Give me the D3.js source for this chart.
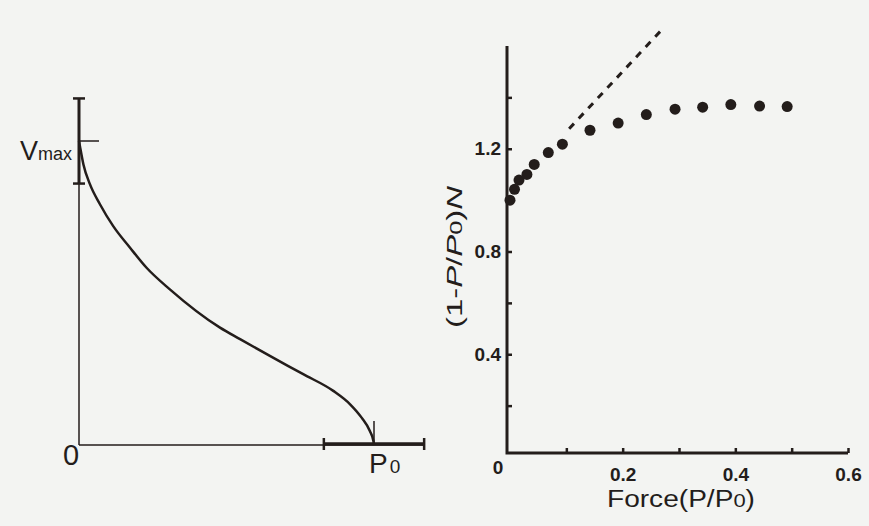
<!DOCTYPE html>
<html>
<head>
<meta charset="utf-8">
<script src="https://cdnjs.cloudflare.com/ajax/libs/d3/7.8.5/d3.min.js"></script>
<style>
  body { margin: 0; background: #f3f4f2; }
  svg { display: block; }
</style>
</head>
<body>
<div id="chart"></div>
<script>
const w = 869;
const h = 526;
const ink = '#231d1b';

// left panel: schematic force-velocity curve (P/P0, V/Vmax)
const curveP = [0, 0.003, 0.015, 0.037, 0.071, 0.116, 0.173, 0.229, 0.308, 0.478, 0.546, 0.647, 0.760, 0.862, 0.919, 0.958, 0.986, 0.998, 1.0];
const curveV = [1.0, 0.984, 0.923, 0.858, 0.792, 0.720, 0.649, 0.583, 0.512, 0.386, 0.348, 0.293, 0.233, 0.178, 0.134, 0.090, 0.046, 0.013, 0];
const vmaxRange = [0.86, 1.14];
const p0Range = [0.83, 1.17];

// right panel: (1-P/P0)N vs force
const forceVals = [0, 0.008, 0.016, 0.03, 0.043, 0.068, 0.093, 0.142, 0.192, 0.242, 0.293, 0.342, 0.392, 0.443, 0.492];
const nVals = [1.0, 1.042, 1.078, 1.10, 1.139, 1.185, 1.218, 1.272, 1.30, 1.333, 1.354, 1.362, 1.372, 1.366, 1.364];
const dashX = [0.105, 0.268];
const dashY = [1.278, 1.66];
const xTicks = [0.1, 0.2, 0.3, 0.4, 0.5, 0.6];
const xTickLabels = [0.2, 0.4, 0.6];
const yTicks = [0.2, 0.4, 0.6, 0.8, 1.0, 1.2, 1.4];
const yTickLabels = [0.4, 0.8, 1.2];

const svg = d3.select('#chart')
  .append('svg')
  .attr('width', w)
  .attr('height', h);

svg.append('rect').attr('width', w).attr('height', h).attr('fill', '#f3f4f2');

// ---------- left panel ----------
const lx = d3.scaleLinear().domain([0, 1]).range([79, 374]);
const ly = d3.scaleLinear().domain([0, 1]).range([445, 141]);
const left = svg.append('g').attr('stroke', ink).attr('fill', 'none');

// thin axes
left.append('line')
  .attr('x1', lx(0)).attr('x2', lx(0))
  .attr('y1', ly(0)).attr('y2', ly(vmaxRange[1]))
  .attr('stroke-width', 1.5);
left.append('line')
  .attr('x1', lx(0)).attr('x2', lx(p0Range[1]))
  .attr('y1', ly(0)).attr('y2', ly(0))
  .attr('stroke-width', 1.5);

// thick ranges with end caps
left.append('line')
  .attr('x1', lx(0)).attr('x2', lx(0))
  .attr('y1', ly(vmaxRange[0])).attr('y2', ly(vmaxRange[1]))
  .attr('stroke-width', 3);
vmaxRange.forEach(v => {
  left.append('line')
    .attr('x1', lx(0) - 6).attr('x2', lx(0) + 6)
    .attr('y1', ly(v)).attr('y2', ly(v))
    .attr('stroke-width', 2.5);
});
left.append('line')
  .attr('x1', lx(p0Range[0])).attr('x2', lx(p0Range[1]))
  .attr('y1', ly(0) - 1).attr('y2', ly(0) - 1)
  .attr('stroke-width', 3.5);
p0Range.forEach(v => {
  left.append('line')
    .attr('x1', lx(v)).attr('x2', lx(v))
    .attr('y1', ly(0) - 7).attr('y2', ly(0) + 5)
    .attr('stroke-width', 2.5);
});

// Vmax and P0 marks
left.append('line')
  .attr('x1', lx(0)).attr('x2', lx(0) + 20)
  .attr('y1', ly(1)).attr('y2', ly(1))
  .attr('stroke-width', 1.5);
left.append('line')
  .attr('x1', lx(1)).attr('x2', lx(1))
  .attr('y1', ly(0)).attr('y2', ly(0) - 24)
  .attr('stroke-width', 1.5);

const curveData = curveP.map((p, i) => [p, curveV[i]]);
left.append('path')
  .datum(curveData)
  .attr('d', d3.line().x(d => lx(d[0])).y(d => ly(d[1])).curve(d3.curveMonotoneX))
  .attr('stroke-width', 2.5);

const ltext = svg.append('g').attr('fill', ink).attr('font-family', 'Liberation Sans, Arial, sans-serif');
const vm = ltext.append('text').attr('x', 20).attr('y', 160);
vm.append('tspan').attr('font-size', 27).text('V');
vm.append('tspan').attr('font-size', 18).text('max');

ltext.append('text')
  .attr('x', 71).attr('y', 465)
  .attr('text-anchor', 'middle')
  .attr('font-size', 29)
  .text('0');

const p0 = ltext.append('text').attr('x', 369).attr('y', 473);
p0.append('tspan').attr('font-size', 28).text('P');
p0.append('tspan').attr('font-size', 19).attr('dx', 2).text('0');

// ---------- right panel ----------
const x = d3.scaleLinear().domain([0, 0.6]).range([510, 848]);
const y = d3.scaleLinear().domain([0, 1.6]).range([457, 46]);
const axisX = 507;
const axisY = 453;

const right = svg.append('g');

const xAxis = d3.axisBottom(x)
  .tickValues(xTicks)
  .tickSizeInner(-5)
  .tickSizeOuter(0)
  .tickPadding(15)
  .tickFormat(d => xTickLabels.some(v => Math.abs(v - d) < 1e-9) ? d3.format('.1f')(d) : '');

const yAxis = d3.axisLeft(y)
  .tickValues(yTicks)
  .tickSizeInner(-5)
  .tickSizeOuter(0)
  .tickPadding(6)
  .tickFormat(d => yTickLabels.some(v => Math.abs(v - d) < 1e-9) ? d3.format('.1f')(d) : '');

const gx = right.append('g')
  .attr('transform', 'translate(0,' + axisY + ')')
  .call(xAxis);
const gy = right.append('g')
  .attr('transform', 'translate(' + axisX + ',0)')
  .call(yAxis);

[gx, gy].forEach(g => {
  g.select('.domain').remove();
  g.selectAll('.tick line').attr('stroke', ink).attr('stroke-width', 2.5);
  g.selectAll('.tick text')
    .attr('fill', ink)
    .attr('font-family', 'Liberation Sans, Arial, sans-serif')
    .attr('font-weight', 'bold')
    .attr('font-size', 19);
});

right.append('path')
  .attr('d', 'M' + axisX + ',' + y(1.6) + 'V' + axisY + 'H' + x(0.6))
  .attr('fill', 'none')
  .attr('stroke', ink)
  .attr('stroke-width', 3);

right.append('text')
  .attr('x', 498).attr('y', 474)
  .attr('text-anchor', 'middle')
  .attr('fill', ink)
  .attr('font-family', 'Liberation Sans, Arial, sans-serif')
  .attr('font-weight', 'bold')
  .attr('font-size', 19)
  .text('0');

right.append('line')
  .attr('x1', x(dashX[0])).attr('y1', y(dashY[0]))
  .attr('x2', x(dashX[1])).attr('y2', y(dashY[1]))
  .attr('stroke', ink)
  .attr('stroke-width', 3)
  .attr('stroke-dasharray', '7,7');

right.selectAll('circle')
  .data(forceVals.map((f, i) => [f, nVals[i]]))
  .enter()
  .append('circle')
  .attr('cx', d => x(d[0]))
  .attr('cy', d => y(d[1]))
  .attr('r', 5.5)
  .attr('fill', ink);

// axis titles
const xt = right.append('text')
  .attr('x', 681).attr('y', 507)
  .attr('text-anchor', 'middle')
  .attr('fill', ink)
  .attr('font-family', 'Liberation Sans, Arial, sans-serif')
  .attr('font-size', 23)
  .attr('textLength', 148)
  .attr('lengthAdjust', 'spacingAndGlyphs');
xt.append('tspan').text('Force(P/P');
xt.append('tspan').attr('font-size', 18).text('0');
xt.append('tspan').text(')');

const yt = right.append('text')
  .attr('transform', 'translate(462,257) rotate(-90)')
  .attr('text-anchor', 'middle')
  .attr('fill', ink)
  .attr('font-family', 'Liberation Sans, Arial, sans-serif')
  .attr('font-size', 22)
  .attr('textLength', 142)
  .attr('lengthAdjust', 'spacingAndGlyphs');
yt.append('tspan').text('(1-');
yt.append('tspan').attr('font-style', 'italic').text('P');
yt.append('tspan').text('/');
yt.append('tspan').attr('font-style', 'italic').text('P');
yt.append('tspan').attr('font-size', 17).text('0');
yt.append('tspan').text(')');
yt.append('tspan').attr('font-style', 'italic').text('N');
</script>
</body>
</html>
